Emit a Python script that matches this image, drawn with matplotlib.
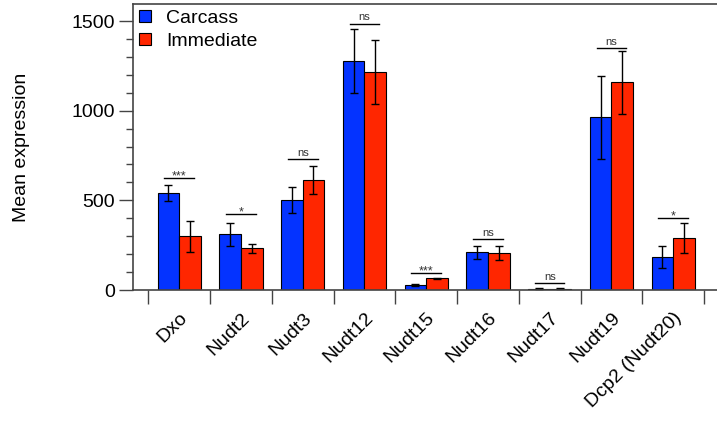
import numpy as np
import matplotlib.pyplot as plt

plt.rcParams['font.family'] = ['Liberation Sans', 'DejaVu Sans']

genes = ['Dxo', 'Nudt2', 'Nudt3', 'Nudt12', 'Nudt15', 'Nudt16', 'Nudt17', 'Nudt19', 'Dcp2 (Nudt20)']
carcass = [539, 310, 500, 1277, 26, 210, 7, 963, 184]
carcass_err = [44, 65, 72, 179, 5, 38, 2, 231, 60]
immediate = [299, 232, 613, 1217, 65, 206, 7, 1158, 290]
immediate_err = [85, 27, 79, 178, 4, 41, 2, 177, 81]
sig_labels = ['***', '*', 'ns', 'ns', '***', 'ns', 'ns', 'ns', '*']
sig_heights = [626, 426, 729, 1485, 97, 283, 37, 1349, 400]

blue = '#0433FF'
red = '#FF2600'

fig = plt.figure(figsize=(7.17, 4.23), dpi=100)
ax = fig.add_axes([0.1855, 0.3144, 0.8145, 0.6761])

x = np.arange(len(genes))
w = 0.35
ekw = dict(elinewidth=1.0, capthick=1.0, ecolor='black')
ax.bar(x - w/2, carcass, w, yerr=carcass_err, color=blue, edgecolor='black',
       linewidth=0.8, capsize=3, error_kw=ekw, label='Carcass')
ax.bar(x + w/2, immediate, w, yerr=immediate_err, color=red, edgecolor='black',
       linewidth=0.8, capsize=3, error_kw=ekw, label='Immediate')

# significance brackets
for i in range(len(genes)):
    h = sig_heights[i]
    ax.plot([i - 0.24, i + 0.24], [h, h], color='black', lw=1.0)
    if sig_labels[i] == 'ns':
        ax.text(i, h + 8, 'ns', ha='center', va='bottom', fontsize=8, color='#333333')
    else:
        ax.text(i, h - 25, sig_labels[i], ha='center', va='bottom', fontsize=9, color='#333333')

ax.set_xlim(-0.748, 8.71)
ax.set_ylim(0, 1595)
ax.set_yticks([0, 500, 1000, 1500])
ax.set_yticks(np.arange(0, 1600, 100), minor=True)
ax.tick_params(axis='y', which='major', length=10, width=1, color='#444444', labelsize=14, pad=3)
ax.tick_params(axis='y', which='minor', length=5, width=1, color='#444444')

ax.set_xticks(x)
ax.set_xticklabels(genes, rotation=45, ha='right', rotation_mode='anchor', fontsize=14)
ax.set_xticks(np.arange(-0.5, len(genes), 1.0), minor=True)
ax.tick_params(axis='x', which='major', length=0, pad=14)
ax.tick_params(axis='x', which='minor', length=10, width=1, color='#444444')

for s in ['left', 'top', 'bottom']:
    ax.spines[s].set_color('#444444')
    ax.spines[s].set_linewidth(1.2)
ax.spines['right'].set_visible(False)

ax.set_ylabel('Mean expression', fontsize=14, labelpad=30)

ax.legend(loc='upper left', frameon=False, fontsize=14, handlelength=0.6,
          handleheight=0.6, handletextpad=0.8, borderaxespad=0.0, borderpad=0.3,
          labelspacing=0.3)

fig.savefig('out.png', dpi=100)
